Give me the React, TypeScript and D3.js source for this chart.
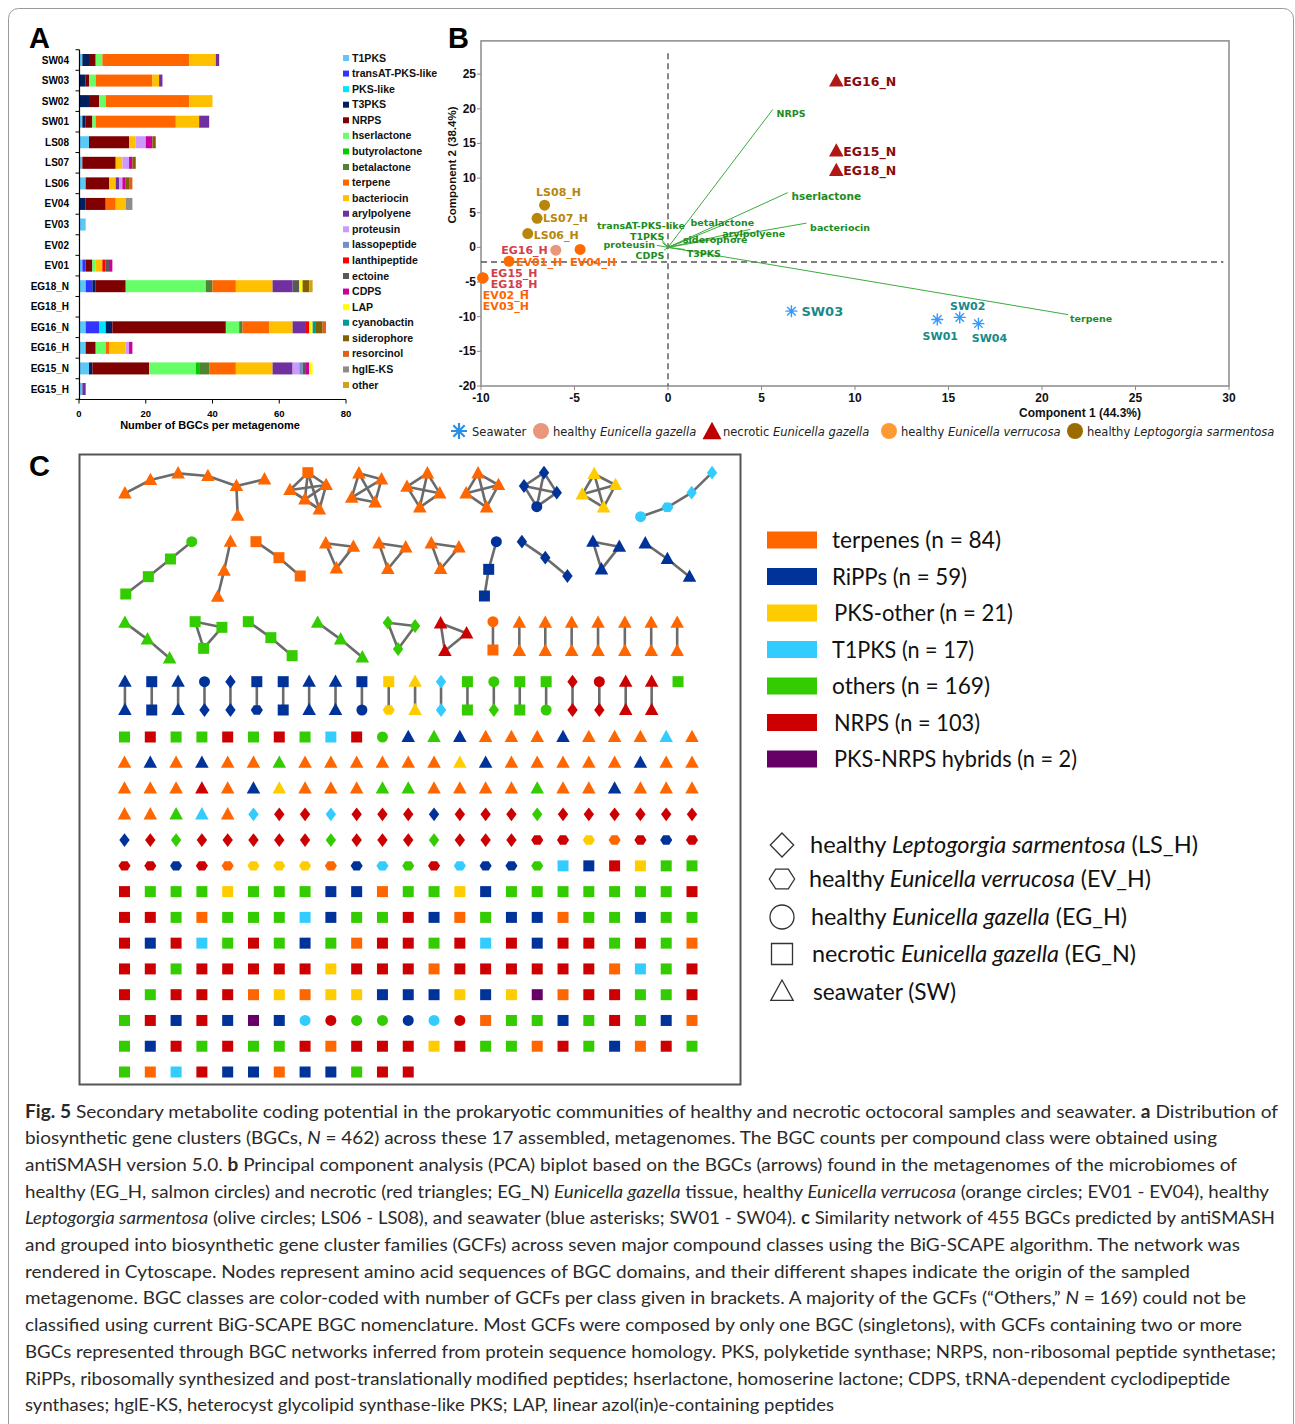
import React from "react";
import * as d3 from "d3";

// ---------------- Panel A: BGC counts per metagenome ----------------
const samples = ["SW04", "SW03", "SW02", "SW01", "LS08", "LS07", "LS06", "EV04", "EV03", "EV02", "EV01",
  "EG18_N", "EG18_H", "EG16_N", "EG16_H", "EG15_N", "EG15_H"];
const bgcClasses = ["T1PKS", "transAT-PKS-like", "PKS-like", "T3PKS", "NRPS", "hserlactone", "butyrolactone",
  "betalactone", "terpene", "bacteriocin", "arylpolyene", "proteusin", "lassopeptide", "lanthipeptide", "ectoine",
  "CDPS", "LAP", "cyanobactin", "siderophore", "resorcinol", "hglE-KS", "other"];
const classColors = ["#5BC8F5", "#3333FF", "#00E5FF", "#002060", "#7F0000", "#66FF66", "#00CC00", "#548235",
  "#FF6600", "#FFC000", "#7030A0", "#CC99FF", "#6F8FCF", "#FF0000", "#595959", "#CC0099", "#FFFF00", "#009999",
  "#806000", "#E0601A", "#8C8C8C", "#D4A017"];
// one row per sample, columns follow bgcClasses
const bgcCounts = [
  [1, 0, 0, 2, 2, 2, 0, 0, 26, 8, 1, 0, 0, 0, 0, 0, 0, 0, 0, 0, 0, 0], // SW04
  [0, 0, 0, 2, 1, 2, 0, 0, 17, 2, 1, 0, 0, 0, 0, 0, 0, 0, 0, 0, 0, 0], // SW03
  [0, 0, 0, 3, 3, 2, 0, 0, 25, 7, 0, 0, 0, 0, 0, 0, 0, 0, 0, 0, 0, 0], // SW02
  [1, 0, 0, 1, 2, 1, 0, 0, 24, 7, 3, 0, 0, 0, 0, 0, 0, 0, 0, 0, 0, 0], // SW01
  [3, 0, 0, 0, 12, 0, 0, 0, 0, 2, 0, 3, 0, 0, 0, 2, 0, 0, 1, 0, 0, 0], // LS08
  [1, 0, 0, 0, 10, 0, 0, 0, 0, 2, 0, 2, 0, 0, 0, 1, 0, 0, 1, 0, 0, 0], // LS07
  [2, 0, 0, 0, 7, 0, 0, 0, 0, 2, 1, 1, 0, 0, 0, 1, 0, 0, 1, 1, 0, 0], // LS06
  [0, 0, 0, 2, 6, 0, 0, 0, 3, 3, 0, 0, 0, 0, 0, 0, 0, 0, 0, 0, 2, 0], // EV04
  [2, 0, 0, 0, 0, 0, 0, 0, 0, 0, 0, 0, 0, 0, 0, 0, 0, 0, 0, 0, 0, 0], // EV03
  [0, 0, 0, 0, 0, 0, 0, 0, 0, 0, 0, 0, 0, 0, 0, 0, 0, 0, 0, 0, 0, 0], // EV02
  [1, 1, 0, 0, 2, 1, 0, 0, 0, 2, 0, 0, 0, 1, 1, 1, 0, 0, 0, 0, 0, 0], // EV01
  [2, 2, 0, 1, 9, 24, 0, 2, 7, 11, 6, 0, 0, 0, 2, 0, 1, 0, 2, 0, 0, 1], // EG18_N
  [0, 0, 0, 0, 0, 0, 0, 0, 0, 0, 0, 0, 0, 0, 0, 0, 0, 0, 0, 0, 0, 0], // EG18_H
  [2, 4, 2, 2, 34, 4, 0, 1, 8, 7, 4, 0, 0, 1, 0, 0, 1, 1, 2, 1, 0, 0], // EG16_N
  [2, 0, 0, 0, 3, 3, 0, 0, 1, 5, 0, 1, 0, 0, 0, 1, 0, 0, 0, 0, 0, 0], // EG16_H
  [3, 0, 0, 1, 17, 14, 1, 3, 8, 11, 6, 2, 1, 0, 1, 1, 1, 0, 0, 0, 0, 0], // EG15_N
  [1, 0, 0, 0, 0, 0, 0, 0, 0, 0, 1, 0, 0, 0, 0, 0, 0, 0, 0, 0, 0, 0], // EG15_H
];

// ---------------- Panel B: PCA biplot ----------------
const pcaNames = ["EG16_N", "EG15_N", "EG18_N", "LS08_H", "LS07_H", "LS06_H", "EG16_H", "EV04_H", "EV01_H",
  "EG15_H", "EG18_H", "EV02_H", "EV03_H", "SW03", "SW01", "SW02", "SW04"];
const pcaGroup = ["EGN", "EGN", "EGN", "LS", "LS", "LS", "EGH", "EV", "EV", "EGH", "EGH", "EV", "EV", "SW", "SW", "SW", "SW"];
const pcaX = [9.0, 9.0, 9.0, -6.6, -7.0, -7.5, -6.0, -4.7, -8.5, -9.9, -9.9, -9.9, -9.9, 6.6, 14.4, 15.6, 16.6];
const pcaY = [24.0, 13.9, 11.1, 6.1, 4.2, 2.0, -0.4, -0.3, -2.0, -4.4, -4.4, -4.4, -4.4, -9.2, -10.4, -10.1, -11.0];

const loadNames = ["NRPS", "hserlactone", "bacteriocin", "terpene", "betalactone", "arylpolyene", "siderophore",
  "transAT-PKS-like", "T1PKS", "proteusin", "CDPS", "T3PKS"];
const loadX = [5.6, 6.4, 7.4, 21.4, 3.0, 4.4, 1.6, -0.4, -0.3, -0.6, -0.2, 0.9];
const loadY = [19.9, 7.9, 3.5, -9.7, 3.3, 2.6, 1.7, 1.3, 0.7, 0.3, -0.4, -0.3];

// ---------------- Panel C: BiG-SCAPE network ----------------
// node code = colour class + shape (o terpenes, b RiPPs, y PKS-other, c T1PKS, g others, r NRPS, p hybrid;
// D LS_H, H EV_H, C EG_H, S EG_N, T SW)
const netClasses = ["terpenes (n = 84)", "RiPPs (n = 59)", "PKS-other (n = 21)", "T1PKS (n = 17)",
  "others (n = 169)", "NRPS (n = 103)", "PKS-NRPS hybrids (n = 2)"];
const netClassKeys = ["o", "b", "y", "c", "g", "r", "p"];
const netColors = ["#FF6600", "#003399", "#FFCC00", "#33CCFF", "#33CC00", "#CC0000", "#660066"];

type Net = { nodes: [number, number, string][]; edges: "chain" | "full" | [number, number][] };
const networks: Net[] = [
  { nodes: [[115, 130, "oT"], [175, 90, "oT"], [240, 70, "oT"], [310, 78, "oT"], [377, 108, "oT"], [443, 88, "oT"], [380, 197, "oT"]],
    edges: [[0, 1], [1, 2], [2, 3], [3, 4], [4, 5], [4, 6]] },
  { nodes: [[545, 68, "oS"], [503, 120, "oT"], [588, 105, "oT"], [538, 148, "oT"], [572, 178, "oT"]], edges: "full" },
  { nodes: [[665, 70, "oT"], [718, 88, "oT"], [648, 143, "oT"], [703, 157, "oT"]], edges: "full" },
  { nodes: [[826, 70, "oT"], [778, 110, "oT"], [855, 130, "oT"], [808, 172, "oT"]], edges: "full" },
  { nodes: [[945, 70, "oT"], [993, 105, "oT"], [917, 130, "oT"], [965, 172, "oT"]], edges: "full" },
  { nodes: [[1100, 68, "bD"], [1053, 108, "bD"], [1130, 128, "bD"], [1083, 170, "bC"]], edges: "full" },
  { nodes: [[1218, 72, "yT"], [1268, 105, "yT"], [1190, 133, "yT"], [1240, 172, "yT"]], edges: "full" },
  { nodes: [[1495, 68, "cD"], [1447, 128, "cD"], [1390, 172, "cH"], [1327, 200, "cC"]], edges: "chain" },
  { nodes: [[272, 275, "gC"], [222, 327, "gS"], [170, 380, "gS"], [117, 432, "gS"]], edges: "chain" },
  { nodes: [[363, 275, "oT"], [348, 362, "oT"], [333, 440, "oT"]], edges: "chain" },
  { nodes: [[423, 275, "oS"], [477, 323, "oS"], [527, 378, "oS"]], edges: "chain" },
  { nodes: [[587, 280, "oT"], [652, 290, "oT"], [612, 355, "oT"]], edges: "full" },
  { nodes: [[712, 280, "oT"], [775, 292, "oT"], [733, 357, "oT"]], edges: "full" },
  { nodes: [[835, 280, "oT"], [900, 292, "oT"], [857, 357, "oT"]], edges: "full" },
  { nodes: [[988, 275, "bC"], [970, 358, "bS"], [960, 438, "bS"]], edges: "chain" },
  { nodes: [[1048, 275, "bD"], [1103, 323, "bD"], [1155, 378, "bD"]], edges: "chain" },
  { nodes: [[1215, 275, "bT"], [1277, 290, "bT"], [1235, 358, "bT"]], edges: "full" },
  { nodes: [[1338, 280, "bT"], [1390, 327, "bT"], [1442, 380, "bT"]], edges: "chain" },
  { nodes: [[115, 518, "gT"], [168, 568, "gT"], [220, 625, "gT"]], edges: "chain" },
  { nodes: [[280, 515, "gS"], [343, 532, "gS"], [300, 595, "gS"]], edges: "full" },
  { nodes: [[405, 515, "gS"], [458, 563, "gS"], [508, 617, "gS"]], edges: "chain" },
  { nodes: [[568, 518, "gT"], [622, 568, "gT"], [673, 622, "gT"]], edges: "chain" },
  { nodes: [[733, 518, "gD"], [797, 528, "gD"], [757, 597, "gD"]], edges: "full" },
  { nodes: [[857, 520, "rT"], [918, 550, "rT"], [867, 603, "rT"]], edges: "full" },
  { nodes: [[980, 515, "oC"], [980, 600, "oS"]], edges: "chain" },
];
// two-node families
const pairX3 = [1042, 1103, 1165, 1227, 1290, 1352, 1413];
const pairX4 = [115, 178, 240, 302, 363, 425, 487, 548, 610, 672, 735, 797, 858, 920, 982, 1043, 1105, 1167, 1230, 1292, 1353];
const pairTop4 = ["bT", "bS", "bT", "bC", "bD", "bS", "bS", "bT", "bT", "bS", "yS", "yT", "cD", "gS", "gC", "gS", "gS", "rD", "rC", "rT", "rT"];
const pairBot4 = ["bT", "bS", "bT", "bD", "bD", "bH", "bS", "bT", "bT", "bC", "yH", "yT", "cD", "gS", "gD", "gS", "gC", "rD", "rD", "rT", "rT"];

const singletonRows = [
  "gS rS gS gS rS gS rS gS cS rS gC bT gT bT oT oT oT bT oT oT oT cT oT",
  "oT bT oT bT oT oT gT oT oT oT oT oT oT yT bT oT oT oT oT oT bT oT oT",
  "oT oT oT rT oT bT yT oT oT oT gT gT oT oT oT oT gT oT oT bT oT oT oT",
  "oT oT gT cT oT cD rD rD cD rD rD rD bD rD rD rD gD rD rD rD rD rD rD",
  "bD rD gD rD rD rD rD rD gD rD rD rD gD rD rD rD rH rH yH oH rH bH rH",
  "rH rH bH rH oH yH yH yH oH bH cH gH rH cH bH bH gH cS bS rS yS gS gS",
  "rS gS gS gS yS gS gS gS bS bS oS gS gS yS bS gS gS gS gS gS gS gS rS",
  "rS rS gS oS gS gS gS cS bS gS gS rS bS oS gS bS bS oS gS gS bS gS gS",
  "rS bS rS cS gS rS gS bS gS oS rS rS gS rS cS rS bS rS rS gS rS gS oS",
  "rS rS gS rS rS rS rS rS yS rS rS rS oS rS rS rS rS rS rS oS cS gS rS",
  "rS gS rS rS rS oS yS oS yS yS bS bS bS yS bS yS pS oS rS rS gS gS rS",
  "gS rS bS rS bS pS bS cC rC gC gC bC cC rC oS gS gS bS gS rS gS bS oS",
  "gS bS rS gS rS gS gS rS oS rS rS rS yS rS gS gS oS rS gS bS oS rS gS",
  "gS oS cS rS bS bS oS bS bS gS rS rS",
];

const originLegend = [
  { shape: "D", pre: "healthy ", sp: "Leptogorgia sarmentosa", post: " (LS_H)" },
  { shape: "H", pre: "healthy ", sp: "Eunicella verrucosa", post: " (EV_H)" },
  { shape: "C", pre: "healthy ", sp: "Eunicella gazella", post: " (EG_H)" },
  { shape: "S", pre: "necrotic ", sp: "Eunicella gazella", post: " (EG_N)" },
  { shape: "T", pre: "seawater (SW)", sp: "", post: "" },
];

const captionLines = [
  "<b>Fig. 5</b> Secondary metabolite coding potential in the prokaryotic communities of healthy and necrotic octocoral samples and seawater. <b>a</b> Distribution of",
  "biosynthetic gene clusters (BGCs, <i>N</i> = 462) across these 17 assembled, metagenomes. The BGC counts per compound class were obtained using",
  "antiSMASH version 5.0. <b>b</b> Principal component analysis (PCA) biplot based on the BGCs (arrows) found in the metagenomes of the microbiomes of",
  "healthy (EG_H, salmon circles) and necrotic (red triangles; EG_N) <i>Eunicella gazella</i> tissue, healthy <i>Eunicella verrucosa</i> (orange circles; EV01 - EV04), healthy",
  "<i>Leptogorgia sarmentosa</i> (olive circles; LS06 - LS08), and seawater (blue asterisks; SW01 - SW04). <b>c</b> Similarity network of 455 BGCs predicted by antiSMASH",
  "and grouped into biosynthetic gene cluster families (GCFs) across seven major compound classes using the BiG-SCAPE algorithm. The network was",
  "rendered in Cytoscape. Nodes represent amino acid sequences of BGC domains, and their different shapes indicate the origin of the sampled",
  "metagenome. BGC classes are color-coded with number of GCFs per class given in brackets. A majority of the GCFs (\u201cOthers,\u201d <i>N</i> = 169) could not be",
  "classified using current BiG-SCAPE BGC nomenclature. Most GCFs were composed by only one BGC (singletons), with GCFs containing two or more",
  "BGCs represented through BGC networks inferred from protein sequence homology. PKS, polyketide synthase; NRPS, non-ribosomal peptide synthetase;",
  "RiPPs, ribosomally synthesized and post-translationally modified peptides; hserlactone, homoserine lactone; CDPS, tRNA-dependent cyclodipeptide",
  "synthases; hglE-KS, heterocyst glycolipid synthase-like PKS; LAP, linear azol(in)e-containing peptides",
];
const captionEnds = [1278, 1217, 1237, 1269, 1275, 1240, 1190, 1246, 1242, 1276, 1230, 834];
// right ends of the legend texts in panel C, as measured on the reference
const classLegendEnds = [1001, 967, 1013, 974, 990, 980, 1077];
const originLegendEnds = [1198, 1151, 1127, 1136, 956];

// ---------------- helpers ----------------
const shapePath = (shape: string, s: number): string => {
  switch (shape) {
    case "S":
      return `M${-s / 2},${-s / 2}h${s}v${s}h${-s}Z`;
    case "T":
      return `M0,${-s * 0.6}L${s * 0.56},${s * 0.42}L${-s * 0.56},${s * 0.42}Z`;
    case "D":
      return `M0,${-s * 0.6}L${s * 0.45},0L0,${s * 0.6}L${-s * 0.45},0Z`;
    case "H": {
      const r = s * 0.55;
      const pts = d3.range(6).map((k) => [r * Math.cos((k * Math.PI) / 3), r * 0.9 * Math.sin((k * Math.PI) / 3)] as [number, number]);
      return d3.line()(pts) + "Z";
    }
    default:
      return d3.symbol(d3.symbolCircle, Math.PI * (s / 2) * (s / 2))() as string;
  }
};
const asteriskPath = (r: number) =>
  [0, 45, 90, 135].map((a) => {
    const c = Math.cos((a * Math.PI) / 180) * r;
    const s = Math.sin((a * Math.PI) / 180) * r;
    return `M${-c},${-s}L${c},${s}`;
  }).join("");

const nodeColor = (code: string) => netColors[netClassKeys.indexOf(code[0])];

const renderRich = (line: string) =>
  line.split(/(<b>.*?<\/b>|<i>.*?<\/i>)/).filter((p) => p.length).map((p, i) => {
    if (p.startsWith("<b>")) return <tspan key={i} fontWeight="bold">{p.slice(3, -4)}</tspan>;
    if (p.startsWith("<i>")) return <tspan key={i} fontStyle="italic">{p.slice(3, -4)}</tspan>;
    return <tspan key={i}>{p}</tspan>;
  });

// ---------------- panels ----------------
function PanelA() {
  const x = d3.scaleLinear().domain([0, 80]).range([79, 346]);
  const y = d3.scalePoint<string>().domain(samples).range([60, 389]);
  const step = y.step();
  const rows = samples.map((s, i) => {
    const o: Record<string, any> = { sample: s };
    bgcClasses.forEach((c, j) => (o[c] = bgcCounts[i][j]));
    return o;
  });
  const series = d3.stack<Record<string, any>>().keys(bgcClasses)(rows);
  const bh = 12;
  const font = "'Liberation Sans', Arial, sans-serif";
  const legY = d3.scalePoint<string>().domain(bgcClasses).range([58, 385]);
  return (
    <g fontFamily={font} fontWeight="bold">
      {series.map((ser, k) => (
        <g key={ser.key} fill={classColors[k]}>
          {ser.map((d, i) => d[1] > d[0] ? (
            <rect key={i} x={x(d[0])} y={(y(samples[i]) as number) - bh / 2} width={x(d[1]) - x(d[0])} height={bh} />
          ) : null)}
        </g>
      ))}
      {/* axes */}
      <line x1={79.5} x2={79.5} y1={60 - step / 2} y2={399.5} stroke="#000" strokeWidth={1.2} />
      {d3.range(samples.length + 1).map((k) => (
        <line key={k} x1={75.5} x2={79.5} y1={60 - step / 2 + k * step} y2={60 - step / 2 + k * step} stroke="#000" />
      ))}
      {samples.map((s) => (
        <text key={s} x={69} y={(y(s) as number) + 3.5} textAnchor="end" fontSize={10} fill="#000">{s}</text>
      ))}
      <line x1={79} x2={346} y1={399.5} y2={399.5} stroke="#000" strokeWidth={1.2} />
      {x.ticks(4).map((t) => (
        <g key={t}>
          <line x1={x(t)} x2={x(t)} y1={399.5} y2={403.5} stroke="#000" />
          <text x={x(t)} y={417} textAnchor="middle" fontSize={9.5}>{t}</text>
        </g>
      ))}
      <text x={210} y={429} textAnchor="middle" fontSize={11}>Number of BGCs per metagenome</text>
      {/* legend */}
      {bgcClasses.map((c, k) => (
        <g key={c}>
          <rect x={343} y={(legY(c) as number) - 3} width={6} height={6} fill={classColors[k]} />
          <text x={352} y={(legY(c) as number) + 3.6} fontSize={10.6} fill="#111">{c}</text>
        </g>
      ))}
    </g>
  );
}

const groupColor: Record<string, string> = { EGN: "#B01818", EGH: "#E9967A", EV: "#FF6A00", LS: "#B8860B", SW: "#3399FF" };
const labelColor: Record<string, string> = { EGN: "#8B0A0A", EGH: "#D2404C", EV: "#FF6600", LS: "#B8860B", SW: "#178A8A" };
// label placement (pixels relative to point)
const labelPlace: Record<string, [number, number, string, number]> = {
  EG16_N: [7, 5, "start", 12.5], EG15_N: [7, 5, "start", 12.5], EG18_N: [7, 5, "start", 12.5],
  LS08_H: [14, -9, "middle", 11], LS07_H: [6, 4, "start", 11], LS06_H: [6, 5, "start", 11],
  EG16_H: [-8, 4, "end", 11], EV04_H: [-10, 17, "start", 11], EV01_H: [7, 5, "start", 11],
  EG15_H: [8, -1, "start", 11], EG18_H: [8, 10, "start", 11], EV02_H: [0, 21, "start", 11], EV03_H: [0, 32, "start", 11],
  SW03: [10, 5, "start", 13], SW01: [3, 21, "middle", 11], SW02: [8, -7, "middle", 11], SW04: [11, 18, "middle", 11],
};
const loadLabel: Record<string, [number, number, string]> = {
  NRPS: [5.8, 19.3, "start"], hserlactone: [6.6, 7.4, "start"], bacteriocin: [7.6, 2.9, "start"],
  terpene: [21.5, -10.2, "start"], betalactone: [1.2, 3.6, "start"], arylpolyene: [2.9, 2.0, "start"],
  siderophore: [0.8, 1.2, "start"], "transAT-PKS-like": [0.9, 3.2, "end"], T1PKS: [-0.2, 1.6, "end"],
  proteusin: [-0.7, 0.4, "end"], CDPS: [-0.2, -1.2, "end"], T3PKS: [1.0, -0.9, "start"],
};

function PanelB() {
  const x = d3.scaleLinear().domain([-10, 30]).range([481, 1229]);
  const y = d3.scaleLinear().domain([-20, 30]).range([386, 39.5]);
  const tickFont = "'Liberation Sans', Arial, sans-serif";
  const labFont = "'DejaVu Sans', Verdana, sans-serif";
  const green = "#1E8C1E";
  return (
    <g>
      <rect x={x(-10)} y={y(29.8)} width={x(30) - x(-10)} height={y(-20) - y(29.8)} fill="none" stroke="#8a8a8a" strokeWidth={1.5} />
      <line x1={x(0)} x2={x(0)} y1={y(28)} y2={y(-20)} stroke="#555" strokeWidth={1.4} strokeDasharray="6,4" />
      <line x1={x(-10)} x2={x(29.7)} y1={y(-2.1)} y2={y(-2.1)} stroke="#555" strokeWidth={1.4} strokeDasharray="6,4" />
      <g fontFamily={tickFont} fontWeight="bold" fontSize={12} fill="#111">
        {x.ticks(8).map((t) => (
          <g key={t}>
            <line x1={x(t)} x2={x(t)} y1={386} y2={390} stroke="#8a8a8a" />
            <text x={x(t)} y={402} textAnchor="middle">{t}</text>
          </g>
        ))}
        {y.ticks(10).filter((t) => t <= 25).map((t) => (
          <g key={t}>
            <line x1={477} x2={481} y1={y(t)} y2={y(t)} stroke="#8a8a8a" />
            <text x={476} y={y(t) + 4} textAnchor="end">{t}</text>
          </g>
        ))}
        <text transform={`translate(456,165) rotate(-90)`} textAnchor="middle" fontSize={11.5}>Component 2 (38.4%)</text>
        <text x={1080} y={417} textAnchor="middle">Component 1 (44.3%)</text>
      </g>
      {/* loadings */}
      <g stroke="#3DAA3D" strokeWidth={1}>
        {loadNames.map((n, i) => (
          <line key={n} x1={x(0)} y1={y(0)} x2={x(loadX[i])} y2={y(loadY[i])} />
        ))}
      </g>
      <g fontFamily={labFont} fontWeight="bold" fill={green}>
        {loadNames.map((n) => (
          <text key={n} x={x(loadLabel[n][0])} y={y(loadLabel[n][1]) + 3.5} textAnchor={loadLabel[n][2] as any}
            fontSize={n === "hserlactone" ? 10.5 : 9.5}>{n}</text>
        ))}
      </g>
      {/* samples */}
      {pcaNames.map((n, i) => {
        const px = x(pcaX[i]);
        const py = y(pcaY[i]);
        const g = pcaGroup[i];
        return (
          <g key={n} transform={`translate(${px},${py})`}>
            {g === "SW" ? (
              <path d={asteriskPath(6)} stroke={groupColor.SW} strokeWidth={1.4} fill="none" />
            ) : g === "EGN" ? (
              <path d={shapePath("T", 13)} fill={groupColor.EGN} />
            ) : (
              <circle r={5.5} fill={groupColor[g]} />
            )}
          </g>
        );
      })}
      <g fontFamily={labFont} fontWeight="bold">
        {pcaNames.map((n, i) => {
          const [dx, dy, anchor, fs] = labelPlace[n];
          return (
            <text key={n} x={x(pcaX[i]) + dx} y={y(pcaY[i]) + dy} textAnchor={anchor as any} fontSize={fs}
              fill={labelColor[pcaGroup[i]]}>{n}</text>
          );
        })}
      </g>
      {/* legend */}
      <g fontFamily={labFont} fontSize={11.5} fill="#222">
        <path transform="translate(459,431)" d={asteriskPath(8)} stroke="#2B8FE8" strokeWidth={2.2} fill="none" />
        <text x={472} y={436}>Seawater</text>
        <circle cx={541} cy={431} r={8} fill={groupColor.EGH} />
        <text x={553} y={436}>healthy <tspan fontStyle="italic">Eunicella gazella</tspan></text>
        <path transform="translate(712,432)" d={shapePath("T", 17)} fill="#C00000" />
        <text x={723} y={436}>necrotic <tspan fontStyle="italic">Eunicella gazella</tspan></text>
        <circle cx={889} cy={431} r={8} fill="#FF9933" />
        <text x={901} y={436}>healthy <tspan fontStyle="italic">Eunicella verrucosa</tspan></text>
        <circle cx={1075} cy={431} r={8} fill="#9C6B00" />
        <text x={1087} y={436}>healthy <tspan fontStyle="italic">Leptogorgia sarmentosa</tspan></text>
      </g>
    </g>
  );
}

function Node({ x, y, code, size }: { x: number; y: number; code: string; size: number }) {
  const shape = code[1];
  const s = shape === "T" ? size * 1.1 : shape === "D" ? size * 1.05 : shape === "C" ? size * 1.0 : size;
  return <path transform={`translate(${x},${y})`} d={shapePath(shape, s)} fill={nodeColor(code)} />;
}

function PanelC() {
  const nx = d3.scaleLinear().domain([0, 1563]).range([76, 741]);
  const ny = d3.scaleLinear().domain([0, 810]).range([450, 720]);
  const gx = d3.scaleLinear().domain([0, 22]).range([124.5, 692]);
  const gy = d3.scaleLinear().domain([0, 13]).range([737, 1072]);
  const size = 11;
  const allNets: Net[] = [
    ...networks,
    ...pairX3.map((px) => ({ nodes: [[px, 518, "oT"], [px, 603, "oT"]], edges: "chain" } as Net)),
    ...pairX4.map((px, i) => ({ nodes: [[px, 695, pairTop4[i]], [px, 780, pairBot4[i]]], edges: "chain" } as Net)),
    { nodes: [[1415, 695, "gS"]], edges: [] },
  ];
  const edgeList = (n: Net): [number, number][] => {
    if (n.edges === "chain") return d3.range(n.nodes.length - 1).map((k) => [k, k + 1]);
    if (n.edges === "full") return d3.cross(d3.range(n.nodes.length), d3.range(n.nodes.length)).filter(([a, b]) => a < b) as [number, number][];
    return n.edges;
  };
  const legFont = "Lato, 'Open Sans', sans-serif";
  const legY = d3.scaleLinear().domain([0, 6]).range([540, 759]);
  const legendShape = (shape: string) => {
    if (shape === "D") return { d: shapePath("D", 20), t: "scale(1.3,1)" };
    if (shape === "H") return { d: shapePath("H", 23), t: "" };
    if (shape === "T") return { d: shapePath("T", 20), t: "" };
    if (shape === "S") return { d: shapePath("S", 21), t: "" };
    return { d: shapePath("C", 24), t: "" };
  };
  const textX = [832, 832, 834, 832, 832, 834, 834];
  return (
    <g>
      <rect x={79.5} y={454.5} width={661} height={630} fill="none" stroke="#555" strokeWidth={2} />
      {allNets.map((n, k) => (
        <g key={k}>
          {edgeList(n).map(([a, b], j) => (
            <line key={j} x1={nx(n.nodes[a][0])} y1={ny(n.nodes[a][1])} x2={nx(n.nodes[b][0])} y2={ny(n.nodes[b][1])}
              stroke="#6b6b6b" strokeWidth={2.6} />
          ))}
          {n.nodes.map((d, j) => (
            <Node key={j} x={nx(d[0])} y={ny(d[1])} code={d[2]} size={size} />
          ))}
        </g>
      ))}
      {singletonRows.map((row, r) =>
        row.split(" ").map((code, c) => <Node key={`${r}-${c}`} x={gx(c)} y={gy(r)} code={code} size={size} />)
      )}
      {/* class legend */}
      <g fontFamily={legFont} fontSize={22.5} fill="#111">
        {netClasses.map((c, k) => (
          <g key={c}>
            <rect x={767} y={legY(k) - 8.5} width={50} height={17} fill={netColors[k]} />
            <text x={textX[k]} y={legY(k) + 8} textLength={classLegendEnds[k] - textX[k]} lengthAdjust="spacingAndGlyphs">{c}</text>
          </g>
        ))}
      </g>
      <g fontFamily={legFont} fontSize={22.5} fill="#111">
        {originLegend.map((o, k) => {
          const cy = [845, 879, 917, 954, 992][k];
          const tx = [810, 809, 811, 812, 813][k];
          const ls = legendShape(o.shape);
          return (
            <g key={k}>
              <g transform={`translate(782,${cy})`}>
                <path transform={ls.t} d={ls.d} fill="#fff" stroke="#333" strokeWidth={1.3} vectorEffect="non-scaling-stroke" />
              </g>
              <text x={tx} y={cy + 8} textLength={originLegendEnds[k] - tx} lengthAdjust="spacingAndGlyphs">
                {o.pre}
                {o.sp ? <tspan fontStyle="italic">{o.sp}</tspan> : null}
                {o.post}
              </text>
            </g>
          );
        })}
      </g>
    </g>
  );
}

export default function App() {
  return (
    <svg width={1295} height={1424} style={{ position: "absolute", left: 0, top: 0, background: "#fff" }}
      xmlns="http://www.w3.org/2000/svg">
      <rect x={0} y={0} width={1295} height={1424} fill="#fff" />
      <rect x={8.5} y={8.5} width={1285} height={1440} rx={10} fill="none" stroke="#9a9a9a" strokeWidth={1} />
      <g fontFamily="'Liberation Sans', Arial, sans-serif" fontWeight="bold" fontSize={29} fill="#000">
        <text x={29} y={48}>A</text>
        <text x={448} y={48}>B</text>
        <text x={29} y={476}>C</text>
      </g>
      <PanelA />
      <PanelB />
      <PanelC />
      <g fontFamily="Lato, 'Open Sans', sans-serif" fontSize={18} fill="#2a2a2a">
        {captionLines.map((line, i) => (
          <text key={i} x={25} y={1117.5 + i * 26.7} textLength={captionEnds[i] - 25} lengthAdjust="spacingAndGlyphs">
            {renderRich(line)}
          </text>
        ))}
      </g>
    </svg>
  );
}
